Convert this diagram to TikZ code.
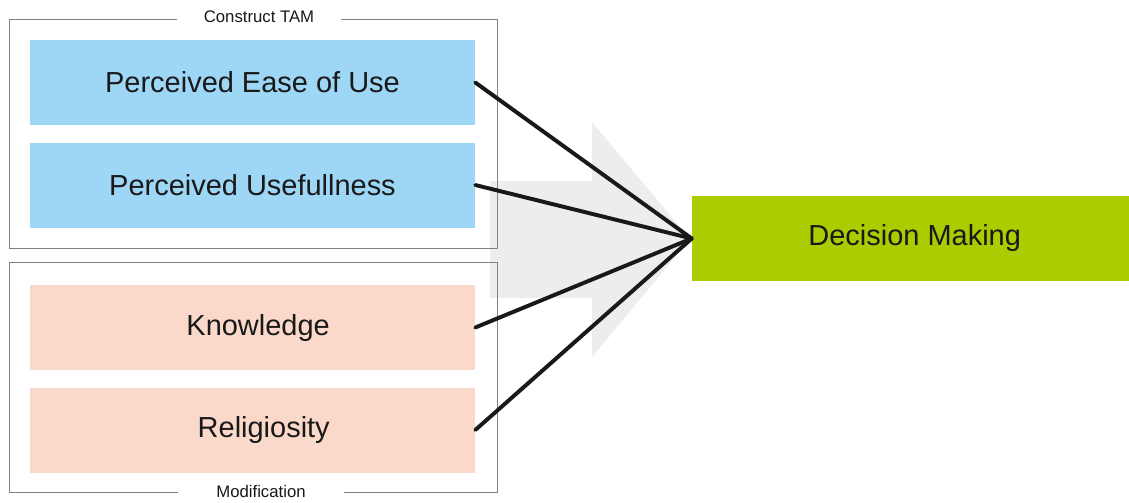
\documentclass[tikz,border=0pt]{standalone}
\usepackage{fontspec}
\setmainfont{Liberation Sans}
\usetikzlibrary{positioning}

\definecolor{tamblue}{RGB}{158,215,245}
\definecolor{modpink}{RGB}{250,217,202}
\definecolor{dmgreen}{RGB}{170,204,0}
\definecolor{flowgray}{RGB}{237,237,237}
\definecolor{framegray}{RGB}{130,130,130}
\definecolor{ink}{RGB}{25,25,25}

\tikzset{
  factor/.style={minimum width=445*0.025cm, minimum height=85*0.025cm,
    inner sep=0pt, text=ink, font=\fontsize{20.6}{24}\selectfont},
  tam/.style={factor, fill=tamblue},
  modif/.style={factor, fill=modpink},
  group/.style={draw=framegray, line width=0.6pt},
  grouplabel/.style={fill=white, inner xsep=19pt, inner ysep=1pt, text=ink,
    font=\fontsize{11.9}{14}\selectfont},
  link/.style={line width=2.8pt, draw=ink, line cap=round}
}

\begin{document}
\begin{tikzpicture}[x=0.025cm, y=-0.025cm]
  \useasboundingbox (0,0) rectangle (1129,502);

  % big gray arrow behind the links
  \fill[flowgray] (490,181) -- (592,181) -- (592,122) -- (690,239)
    -- (592,357) -- (592,298) -- (490,298) -- cycle;

  % group frames
  \draw[group] (9,19) rectangle (497,248);
  \draw[group] (9,262) rectangle (497,492);
  \node[grouplabel] (lbltam) at (259,17) {Construct TAM};
  \node[grouplabel, inner xsep=27pt] (lblmod) at (261,492) {Modification};

  % factor boxes
  \node[tam] (ease) at (252.5,82.5) {Perceived Ease of Use};
  \node[tam] (useful) at (252.5,185) {Perceived Usefullness};
  \node[modif] (know) at (252.5,327.5) {\hspace*{8pt}Knowledge};
  \node[modif] (relig) at (252.5,430) {\hspace*{16pt}Religiosity};

  % outcome
  \node[fill=dmgreen, minimum width=437*0.025cm, minimum height=85*0.025cm,
    inner sep=0pt, text=ink, font=\fontsize{20.6}{24}\selectfont]
    (dm) at (910.5,238.5) {\hspace*{6pt}Decision Making};

  % links into the outcome
  \foreach \src in {ease,useful,know,relig}
    \draw[link] (\src.east) -- (dm.west);
\end{tikzpicture}
\end{document}
